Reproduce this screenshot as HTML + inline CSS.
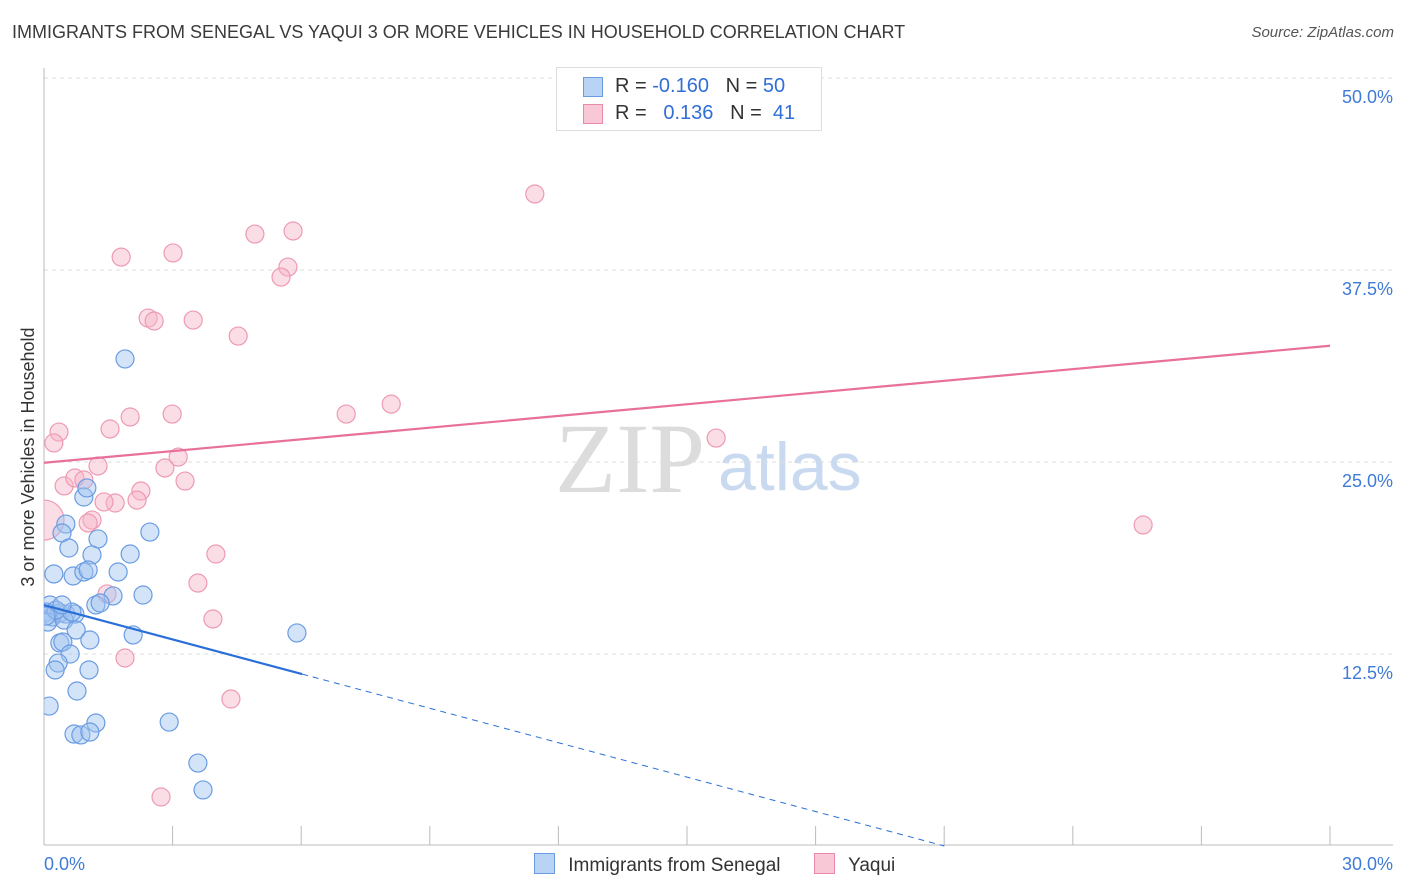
<!DOCTYPE html>
<html><head><meta charset="utf-8"><style>
body{margin:0;background:#fff;font-family:"Liberation Sans",sans-serif}
#wrap{position:relative;width:1406px;height:892px;overflow:hidden}
.t{position:absolute;white-space:nowrap}
</style></head><body><div id="wrap">
<div class="t" style="left:12px;top:22px;font-size:18px;color:#3a3a3a">IMMIGRANTS FROM SENEGAL VS YAQUI 3 OR MORE VEHICLES IN HOUSEHOLD CORRELATION CHART</div>
<div class="t" style="right:12px;top:24px;font-size:15px;color:#555;font-style:italic">Source: ZipAtlas.com</div>
<svg id="svg" width="1406" height="892" style="position:absolute;left:0;top:0">
<defs><clipPath id="pc"><rect x="44" y="60" width="1360" height="786"/></clipPath></defs>
<text x="555" y="492" font-family="Liberation Serif,serif" font-size="100" fill="#dcdcdc">ZIP</text>
<text x="718" y="490" font-family="Liberation Sans,sans-serif" font-size="68" fill="#c9daf0">atlas</text>
<g id="grid"></g><g id="pts" clip-path="url(#pc)"></g><g id="lines"></g>
<text transform="translate(34,457) rotate(-90)" text-anchor="middle" font-size="18" fill="#333">3 or more Vehicles in Household</text>
</svg>
<div style="position:absolute;left:556px;top:67px;width:264px;height:62px;border:1px solid #ddd;background:#fff;font-size:20px">
<div style="position:absolute;left:26px;top:9px;width:18px;height:18px;background:#b9d3f5;border:1px solid #6b9be0"></div>
<div class="t" style="left:58px;top:7px;color:#333">R = <span style="color:#2f6fd6">-0.160</span>&nbsp;&nbsp;&nbsp;N = <span style="color:#2f6fd6">50</span></div>
<div style="position:absolute;left:26px;top:36px;width:18px;height:18px;background:#f8c8d6;border:1px solid #e88aa8"></div>
<div class="t" style="left:58px;top:34px;color:#333">R = &nbsp;&nbsp;<span style="color:#2f6fd6">0.136</span>&nbsp;&nbsp;&nbsp;N = &nbsp;<span style="color:#2f6fd6">41</span></div>
</div>
<div style="position:absolute;left:534px;top:853px;font-size:19px;color:#333">
<span style="display:inline-block;width:19px;height:19px;background:#b9d3f5;border:1px solid #6b9be0;vertical-align:-3px"></span>
<span style="margin-left:8px">Immigrants from Senegal</span>
<span style="display:inline-block;width:19px;height:19px;background:#f8c8d6;border:1px solid #e88aa8;vertical-align:-3px;margin-left:28px"></span>
<span style="margin-left:8px">Yaqui</span>
</div>
</div>
<script>
const yTicks=[12.5,25,37.5,50];
const yTickLabels=["12.5%","25.0%","37.5%","50.0%"];
const xTickLabels=["0.0%","30.0%"];
const blueX=[1.89,.93,1.00,.51,.42,1.26,2.47,.58,1.12,2.01,.23,.68,.93,1.03,1.73,1.61,2.31,1.21,.14,.05,.19,.37,.51,.72,.09,.47,.75,1.07,.37,.44,2.08,5.90,.61,.33,.26,1.05,.77,.12,1.21,2.92,.70,.86,1.07,3.59,3.71,.28,.65,.42,1.31,.05];
const blueY=[31.71,22.72,23.31,20.96,20.38,19.99,20.44,19.40,18.95,19.01,17.71,17.58,17.84,17.97,17.84,16.28,16.34,15.69,15.69,15.23,14.91,15.17,15.10,15.10,14.58,14.71,14.06,13.41,13.22,13.28,13.74,13.87,12.50,11.91,11.46,11.46,10.09,9.11,8.01,8.07,7.29,7.23,7.42,5.40,3.65,15.36,15.23,15.69,15.82,14.97];
const pinkX=[11.45,5.81,4.92,3.01,1.80,5.69,5.53,2.43,2.57,3.48,4.53,.35,1.54,2.01,2.99,7.05,8.10,15.68,.23,1.26,3.13,2.82,.47,.72,.93,3.29,2.26,2.17,1.66,1.12,0,25.64,4.01,3.59,1.47,3.94,1.89,4.36,2.73,1.03,1.40];
const pinkY=[42.45,40.04,39.84,38.61,38.34,37.69,37.04,34.37,34.18,34.24,33.20,26.95,27.15,27.93,28.12,28.12,28.77,26.56,26.24,24.74,25.32,24.61,23.44,23.96,23.83,23.76,23.11,22.52,22.33,21.22,21.22,20.90,19.01,17.12,16.41,14.78,12.24,9.57,3.19,21.03,22.40];
const blueTrend=[15.69,-0.747]; // intercept, slope
const pinkTrend=[24.95,0.254];
const X=v=>44+v/30*1286, Y=v=>846-v/50*768;
const NS="http://www.w3.org/2000/svg";
function mk(p,tag,a){const e=document.createElementNS(NS,tag);for(const k in a)e.setAttribute(k,a[k]);p.appendChild(e);return e;}
const grid=document.getElementById('grid'),pts=document.getElementById('pts'),lines=document.getElementById('lines');
yTicks.forEach((t,i)=>{
 const l=mk(grid,'line',{x1:44,x2:1393,y1:Y(t),y2:Y(t),stroke:'#ddd','stroke-dasharray':'4,4'});
 
 
 const tx=mk(grid,'text',{x:1393,y:Y(t)+25,'text-anchor':'end','font-size':18,fill:'#3f7bd6'});
 tx.textContent=yTickLabels[i];
 
 
});
mk(grid,'line',{x1:44,x2:44,y1:68,y2:845,stroke:'#bbb'});
mk(grid,'line',{x1:44,x2:1393,y1:845,y2:845,stroke:'#bbb'});
for(let i=0;i<=10;i++){mk(grid,'line',{x1:X(i*3),x2:X(i*3),y1:826,y2:845,stroke:'#bbb'});}
[[0,'start',44],[1,'end',1393]].forEach(([i,a,x])=>{
 const tx=mk(grid,'text',{x:x,y:870,'text-anchor':a,'font-size':18,fill:'#3f7bd6'});
 tx.textContent=xTickLabels[i];
 
 
});
pinkX.forEach((v,i)=>{
 const c=mk(pts,'circle',{cx:X(v),cy:Y(pinkY[i]),r:(i===30?20:9),fill:'rgba(246,180,200,0.45)',stroke:'#ee9ab4','stroke-width':1.2});
 
 
});
blueX.forEach((v,i)=>{
 const c=mk(pts,'circle',{cx:X(v),cy:Y(blueY[i]),r:9,fill:'rgba(160,196,240,0.45)',stroke:'#6a9ce2','stroke-width':1.2});
 
 
});
const pl=mk(lines,'line',{x1:X(0),y1:Y(pinkTrend[0]),x2:X(30),y2:Y(pinkTrend[0]+pinkTrend[1]*30),stroke:'#e8709a','stroke-width':2.2});


const bx=6.02,bz=-blueTrend[0]/blueTrend[1];
const bl=mk(lines,'line',{x1:X(0),y1:Y(blueTrend[0]),x2:X(bx),y2:Y(blueTrend[0]+blueTrend[1]*bx),stroke:'#2a6fd8','stroke-width':2.2});


const bd=mk(lines,'line',{x1:X(bx),y1:Y(blueTrend[0]+blueTrend[1]*bx),x2:X(bz),y2:Y(0),stroke:'#2a6fd8','stroke-width':1,'stroke-dasharray':'6,5'});


</script></body></html>
